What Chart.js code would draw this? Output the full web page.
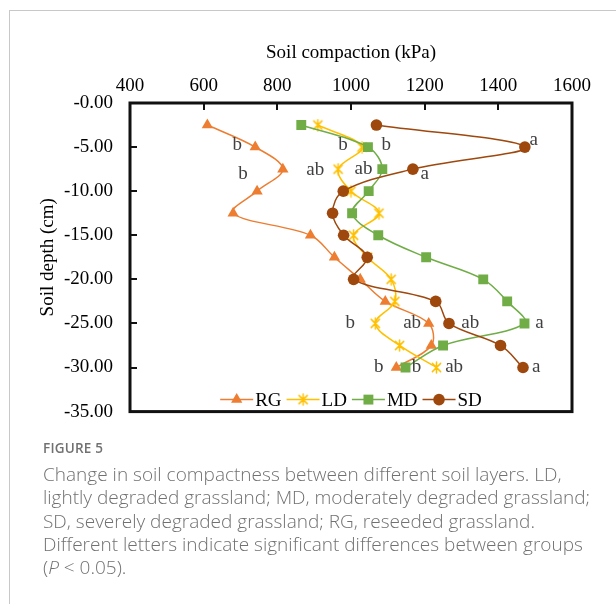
<!DOCTYPE html>
<html><head><meta charset="utf-8">
<script src="https://cdn.jsdelivr.net/npm/chart.js@4/dist/chart.umd.min.js"></script>
<style>
html,body{margin:0;padding:0;background:#fff;width:616px;height:604px;overflow:hidden;}
#frame{position:absolute;left:9px;top:10px;width:640px;height:640px;border-top:1px solid #c8c8c8;border-left:1px solid #c8c8c8;}
#c{position:absolute;left:0;top:0;}
#cap{position:absolute;left:43px;top:438px;font-family:"Open Sans",sans-serif;color:#717171;white-space:nowrap;}
#fig{font-weight:600;font-size:13.5px;line-height:20px;letter-spacing:0.2px;}
#body{font-size:17px;font-weight:300;line-height:23.3px;margin-top:5px;}
</style></head>
<body>
<div id="frame"></div>
<canvas id="c" width="616" height="440"></canvas>
<div id="cap"><div id="fig">FIGURE 5</div><div id="body"></div></div>
<script>
// ---- data ----
const depths = [-2.5, -5, -7.5, -10, -12.5, -15, -17.5, -20, -22.5, -25, -27.5, -30];
const rg = [610, 740, 815, 745, 680, 890, 955, 1025, 1093, 1211, 1218, 1123];
const ld = [910, 1030, 965, 1000, 1076, 1007, 1045, 1109, 1119, 1066, 1132, 1232];
const md = [865, 1046, 1085, 1048, 1003, 1074, 1204, 1359, 1424, 1471, 1250, 1148];
const sd = [1069, 1472, 1168, 979, 950, 980, 1044, 1007, 1230, 1266, 1406, 1467];
const seriesNames = ['RG', 'LD', 'MD', 'SD'];
const xTicks = [400, 600, 800, 1000, 1200, 1400, 1600];
const yTicks = [0, -5, -10, -15, -20, -25, -30, -35];
const letterText = ['b','b','ab','b','b','ab','a','a','b','ab','ab','a','b','b','ab','a'];
const letterX = [691, 707, 903, 978, 1096, 1034, 1496, 1200, 998, 1166, 1324, 1512, 1075, 1178, 1280, 1503];
const letterY = [-4.8, -8.0, -7.65, -4.8, -4.8, -7.5, -4.2, -8.1, -25, -25, -25, -25, -29.9, -29.9, -29.9, -29.9];
const captionLines = [
  'Change in soil compactness between different soil layers. LD,',
  'lightly degraded grassland; MD, moderately degraded grassland;',
  'SD, severely degraded grassland; RG, reseeded grassland.',
  'Different letters indicate significant differences between groups',
  '(<i>P</i> &lt; 0.05).'
];

// ---- caption ----
(function(){
  const m = document.createElement('canvas').getContext('2d');
  m.font = '300 17px "Open Sans"';
  const w = m.measureText(captionLines[0]).width;
  const fs = 17 * 519 / w;
  const b = document.getElementById('body');
  b.style.fontSize = fs.toFixed(2) + 'px';
  b.innerHTML = captionLines.join('<br>');
})();

// ---- chart ----
const SERIF = '"Liberation Serif", "Times New Roman", serif';
function starImg(color, r) {
  const c = document.createElement('canvas');
  const s = 2 * r + 2; c.width = c.height = s;
  const g = c.getContext('2d');
  g.strokeStyle = color; g.lineWidth = 1.5; g.lineCap = 'round';
  const m = s / 2, d = r * 0.75;
  g.beginPath();
  g.moveTo(m - d, m - d); g.lineTo(m + d, m + d);
  g.moveTo(m + d, m - d); g.lineTo(m - d, m + d);
  g.moveTo(m, m - r); g.lineTo(m, m + r);
  g.stroke();
  return c;
}
const colors = ['#ED7D31', '#FFC000', '#70AD47', '#9E480E'];
const styles = ['triangle', starImg('#FFC000', 5.5), 'rect', 'circle'];
const radii = [6.5, 5.5, 7, 5.8];
const values = [rg, ld, md, sd];

const datasets = values.map((vals, i) => ({
  label: seriesNames[i],
  data: vals.map((v, k) => ({x: v, y: depths[k]})),
  borderColor: colors[i],
  backgroundColor: colors[i],
  borderWidth: 1.5,
  pointStyle: styles[i],
  pointRadius: radii[i],
  pointBorderWidth: 0,
  pointBackgroundColor: colors[i],
  pointBorderColor: colors[i],
  tension: 0.35,
  order: 3 - i
}));

const deco = {
  id: 'deco',
  afterDraw(chart) {
    const {ctx, chartArea: a, scales: {x, y}} = chart;
    ctx.save();
    ctx.font = '19px ' + SERIF;
    ctx.fillStyle = '#404040';
    ctx.textAlign = 'center';
    ctx.textBaseline = 'middle';
    letterText.forEach((t, i) => {
      ctx.fillText(t, x.getPixelForValue(letterX[i]), y.getPixelForValue(letterY[i]));
    });
    ctx.strokeStyle = '#111';
    ctx.lineWidth = 3;
    ctx.strokeRect(a.left, a.top, a.right - a.left, a.bottom - a.top);
    ctx.lineWidth = 2;
    ctx.beginPath();
    xTicks.slice(1, -1).forEach(v => {
      const px = Math.round(x.getPixelForValue(v));
      ctx.moveTo(px, a.top); ctx.lineTo(px, a.top + 7);
    });
    yTicks.slice(1, -1).forEach(v => {
      const py = Math.round(y.getPixelForValue(v));
      ctx.moveTo(a.left, py); ctx.lineTo(a.left + 7, py);
    });
    ctx.stroke();
    ctx.font = '19px ' + SERIF;
    ctx.textAlign = 'left';
    const lineLen = 33, gap1 = 2, gap2 = 5;
    const widths = seriesNames.map(n => ctx.measureText(n).width);
    const total = widths.reduce((s, w) => s + lineLen + gap1 + w, 0) + gap2 * (seriesNames.length - 1);
    let cx = (a.left + a.right) / 2 - total / 2;
    const ly = a.bottom - 12;
    seriesNames.forEach((n, i) => {
      ctx.strokeStyle = colors[i]; ctx.fillStyle = colors[i]; ctx.lineWidth = 1.5;
      ctx.beginPath(); ctx.moveTo(cx, ly); ctx.lineTo(cx + lineLen, ly); ctx.stroke();
      Chart.helpers.drawPoint(ctx, {pointStyle: styles[i], radius: radii[i], rotation: 0, borderWidth: 0}, cx + lineLen / 2, ly);
      ctx.fillStyle = '#000';
      ctx.textBaseline = 'middle';
      ctx.fillText(n, cx + lineLen + gap1, ly + 1);
      cx += lineLen + gap1 + widths[i] + gap2;
    });
    ctx.restore();
  }
};

new Chart(document.getElementById('c'), {
  type: 'line',
  data: {datasets},
  options: {
    responsive: false,
    animation: false,
    devicePixelRatio: 1,
    layout: {padding: {left: 0, top: 0, right: 44, bottom: 19}},
    plugins: {legend: {display: false}, tooltip: {enabled: false}},
    scales: {
      x: {
        type: 'linear', position: 'top', min: 400, max: 1600,
        afterBuildTicks: s => { s.ticks = xTicks.map(v => ({value: v})); },
        afterFit: s => { s.height = 103; },
        grid: {display: false, drawTicks: false},
        border: {display: false},
        ticks: {color: '#000', font: {family: SERIF, size: 19}, padding: 6, maxRotation: 0,
          callback: v => String(v)},
        title: {display: true, text: 'Soil compaction (kPa)', color: '#000', font: {family: SERIF, size: 19}, padding: {top: 42, bottom: 0}}
      },
      y: {
        type: 'linear', position: 'left', min: -35, max: 0,
        afterBuildTicks: s => { s.ticks = yTicks.map(v => ({value: v})); },
        afterFit: s => { s.width = 130; },
        grid: {display: false, drawTicks: false},
        border: {display: false},
        ticks: {color: '#000', font: {family: SERIF, size: 19}, padding: 17,
          callback: v => (v === 0 ? '-0.00' : Number(v).toFixed(2))},
        title: {display: true, text: 'Soil depth (cm)', color: '#000', font: {family: SERIF, size: 19}, padding: {top: 37, bottom: 0}}
      }
    }
  },
  plugins: [deco]
});
</script>
</body></html>
